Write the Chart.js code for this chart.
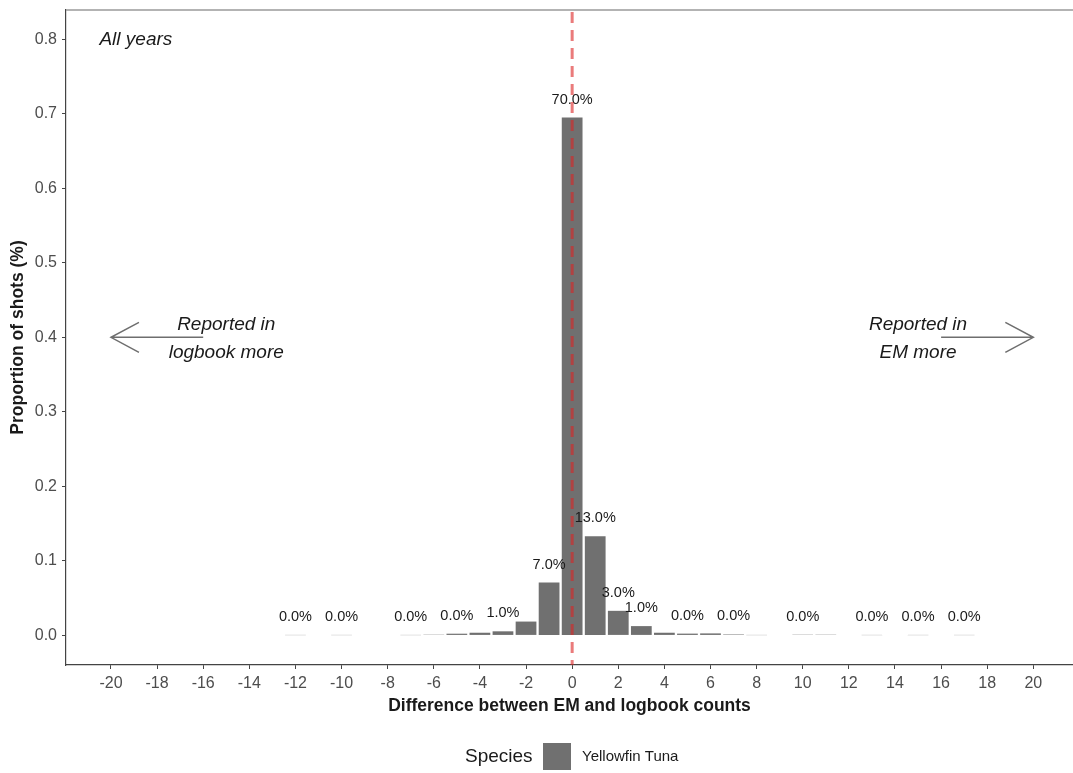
<!DOCTYPE html>
<html>
<head>
<meta charset="utf-8">
<script src="https://cdn.jsdelivr.net/npm/chart.js@4.4.1/dist/chart.umd.min.js"></script>
<style>
  html, body { margin: 0; padding: 0; background: #fff; }
  #wrap { width: 1073px; height: 773px; }
</style>
</head>
<body>
<div id="wrap"><canvas id="diffChart" width="1073" height="773"></canvas></div>
<script>
// difference (EM - logbook) and proportion of shots
var diffs = [-12, -10, -7, -6, -5, -4, -3, -2, -1, 0, 1, 2, 3, 4, 5, 6, 7, 8, 10, 11, 13, 15, 17];
var proportions = [0.0004, 0.0004, 0.0004, 0.001, 0.0023, 0.0036, 0.0055, 0.0186, 0.071, 0.695, 0.133, 0.033, 0.0125,
                   0.0036, 0.0024, 0.0027, 0.0013, 0.0004, 0.001, 0.001, 0.0004, 0.0004, 0.0004];
var barLabels = ['0.0%', '0.0%', '0.0%', null, '0.0%', null, '1.0%', null, '7.0%', '70.0%', '13.0%', '3.0%', '1.0%',
                 null, '0.0%', null, '0.0%', null, '0.0%', null, '0.0%', '0.0%', '0.0%'];
var xTicks = [-20, -18, -16, -14, -12, -10, -8, -6, -4, -2, 0, 2, 4, 6, 8, 10, 12, 14, 16, 18, 20];
var yTicks = [0, 0.1, 0.2, 0.3, 0.4, 0.5, 0.6, 0.7, 0.8];
var speciesName = 'Yellowfin Tuna';

var FONT = "'Liberation Sans', Arial, sans-serif";
var barColor = '#707070';

var extras = {
  id: 'extras',
  afterDatasetsDraw: function(chart) {
    var ctx = chart.ctx;
    var xs = chart.scales.x, ys = chart.scales.y;
    var area = chart.chartArea;
    var meta = chart.getDatasetMeta(0);

    ctx.save();
    // top border
    ctx.strokeStyle = '#9a9a9a';
    ctx.lineWidth = 1.5;
    ctx.beginPath();
    ctx.moveTo(area.left, area.top);
    ctx.lineTo(chart.width, area.top);
    ctx.stroke();

    // bar labels
    ctx.fillStyle = '#1a1a1a';
    ctx.font = '14.5px ' + FONT;
    ctx.textAlign = 'center';
    ctx.textBaseline = 'middle';
    meta.data.forEach(function(bar, i) {
      if (barLabels[i]) ctx.fillText(barLabels[i], bar.x, bar.y - 18);
    });

    // dashed zero line
    ctx.strokeStyle = 'rgba(220, 35, 35, 0.6)';
    ctx.lineWidth = 3;
    ctx.setLineDash([11, 7]);
    ctx.beginPath();
    ctx.moveTo(xs.getPixelForValue(0), area.top + 2);
    ctx.lineTo(xs.getPixelForValue(0), area.bottom);
    ctx.stroke();
    ctx.setLineDash([]);

    // arrows
    ctx.strokeStyle = '#6e6e6e';
    ctx.lineWidth = 1.5;
    function arrow(from, to) {
      var y = ys.getPixelForValue(0.4);
      var x0 = xs.getPixelForValue(from), x1 = xs.getPixelForValue(to);
      var dir = x1 > x0 ? 1 : -1;
      ctx.beginPath();
      ctx.moveTo(x0, y);
      ctx.lineTo(x1, y);
      ctx.moveTo(x1 - dir * 28, y - 15);
      ctx.lineTo(x1, y);
      ctx.lineTo(x1 - dir * 28, y + 15);
      ctx.stroke();
    }
    arrow(-16, -20);
    arrow(16, 20);

    ctx.fillStyle = '#1a1a1a';
    ctx.font = 'italic 19px ' + FONT;
    ctx.fillText('Reported in', xs.getPixelForValue(-15), ys.getPixelForValue(0.417));
    ctx.fillText('logbook more', xs.getPixelForValue(-15), ys.getPixelForValue(0.38));
    ctx.fillText('Reported in', xs.getPixelForValue(15), ys.getPixelForValue(0.417));
    ctx.fillText('EM more', xs.getPixelForValue(15), ys.getPixelForValue(0.38));
    ctx.textAlign = 'left';
    ctx.fillText('All years', xs.getPixelForValue(-20.5), ys.getPixelForValue(0.8));

    // legend
    ctx.font = '19px ' + FONT;
    ctx.fillText('Species', 465, 757);
    ctx.fillStyle = barColor;
    ctx.fillRect(543, 743, 28, 27);
    ctx.fillStyle = '#1a1a1a';
    ctx.font = '15px ' + FONT;
    ctx.fillText(speciesName, 582, 757);
    ctx.restore();
  }
};

var config = {
  type: 'bar',
  data: {
    datasets: [{
      label: speciesName,
      data: diffs.map(function(d, i) { return {x: d, y: proportions[i]}; }),
      backgroundColor: barColor,
      borderWidth: 0,
      barPercentage: 0.9,
      categoryPercentage: 1.0
    }]
  },
  options: {
    responsive: false,
    animation: false,
    layout: { padding: { top: 10, right: 0, bottom: 53, left: 0 } },
    plugins: { legend: { display: false }, tooltip: { enabled: false } },
    scales: {
      x: {
        type: 'linear',
        offset: false,
        min: -21.95,
        max: 21.72,
        afterFit: function(scale) {
          scale.height = 55;
          scale.paddingLeft = 0;
          scale.paddingRight = 0;
        },
        afterBuildTicks: function(scale) { scale.ticks = xTicks.map(function(v) { return {value: v}; }); },
        grid: { display: true, drawOnChartArea: false, drawTicks: true, tickLength: 4, tickColor: '#444', offset: false },
        border: { display: true, color: '#444', width: 1.2 },
        ticks: { color: '#4d4d4d', font: { family: FONT, size: 16 }, padding: 5, maxRotation: 0, autoSkip: false },
        title: {
          display: true,
          text: 'Difference between EM and logbook counts',
          color: '#1a1a1a',
          font: { family: FONT, size: 17.5, weight: 'bold', lineHeight: 1.2 },
          padding: { top: 0, bottom: 3.5 }
        }
      },
      y: {
        min: -0.0397,
        max: 0.8393,
        afterFit: function(scale) {
          scale.width = 66;
          scale.paddingTop = 0;
          scale.paddingBottom = 0;
        },
        afterBuildTicks: function(scale) { scale.ticks = yTicks.map(function(v) { return {value: v}; }); },
        grid: { display: true, drawOnChartArea: false, drawTicks: true, tickLength: 4, tickColor: '#444' },
        border: { display: true, color: '#444', width: 1.2 },
        ticks: {
          color: '#4d4d4d',
          font: { family: FONT, size: 16 },
          padding: 5,
          autoSkip: false,
          callback: function(v) { return v.toFixed(1); }
        },
        title: {
          display: true,
          text: 'Proportion of shots (%)',
          color: '#1a1a1a',
          font: { family: FONT, size: 17.5, weight: 'bold', lineHeight: 1.2 },
          padding: { top: 8, bottom: 0 }
        }
      }
    }
  },
  plugins: [extras]
};

var ctx = document.getElementById('diffChart').getContext('2d');
new Chart(ctx, config);
</script>
</body>
</html>
